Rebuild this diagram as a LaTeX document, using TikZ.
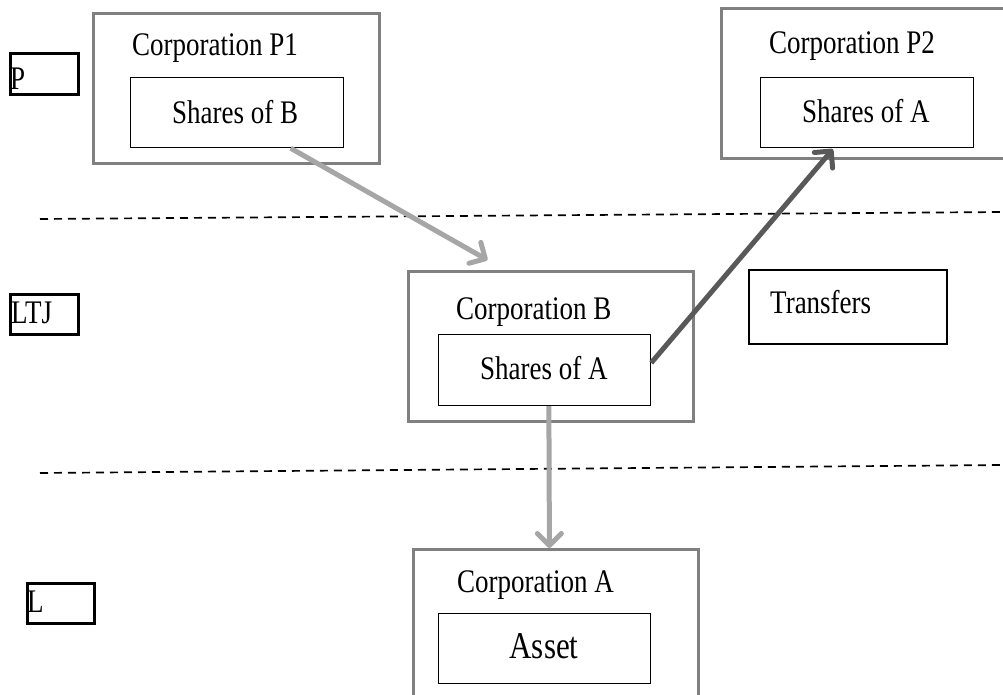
\documentclass[tikz,border=0pt]{standalone}
\usepackage{graphicx}
\usepackage{fontspec}
\setmainfont{Liberation Serif}
\usetikzlibrary{arrows.meta,calc}
\definecolor{outergray}{RGB}{128,128,128}
\definecolor{lightarr}{RGB}{166,166,166}
\definecolor{darkarr}{RGB}{89,89,89}
\newcommand{\stxt}[1]{\scalebox{1}[1.22]{#1}}
\begin{document}
\begin{tikzpicture}[x=1pt,y=-1pt,
  outerbox/.style={draw=outergray,line width=2.5pt,rectangle,inner sep=0pt,anchor=north west},
  innerbox/.style={draw=black,line width=1.2pt,rectangle,inner sep=0pt,anchor=north west},
  lblbox/.style={draw=black,line width=2.5pt,rectangle,inner sep=0pt,anchor=north west},
  txt/.style={anchor=base west,inner sep=0pt,font=\fontsize{27}{32}\selectfont},
  divider/.style={draw=black,line width=1.7pt,dash pattern=on 8pt off 6pt},
  lightarrow/.style={draw=lightarr,line width=5pt,-{Straight Barb[length=12pt,width=24pt,round]}},
  darkarrow/.style={draw=darkarr,line width=5pt,-{Straight Barb[length=12pt,width=24pt,round]}},
]
\clip (0,0) rectangle (1003,694);
% dashed dividers
\coordinate (d1a) at (40,219);
\coordinate (d1b) at (1003,212);
\coordinate (d2a) at (40,473);
\coordinate (d2b) at (1003,465);
\draw[divider] (d1a) -- (d1b);
\draw[divider] (d2a) -- (d2b);
% level label boxes
\node[lblbox,minimum width=68pt,minimum height=41pt] (lp) at (9,52) {};
\node[lblbox,minimum width=68pt,minimum height=40pt] (lltj) at (9,293) {};
\node[lblbox,minimum width=67pt,minimum height=40pt] (ll) at (26,582) {};
\node[txt] (tp) at (10,89) {\stxt{P}};
\node[txt] (tltj) at (11,323) {\stxt{LTJ}};
\node[txt] (tl) at (27,612) {\stxt{L}};
% corporation P1
\node[outerbox,minimum width=286pt,minimum height=150pt] (corpP1) at (92,12) {};
\node[innerbox,minimum width=213pt,minimum height=70pt] (sharesB) at (130,77) {};
\node[txt] (tP1) at (132,55) {\stxt{Corporation P1}};
\node[txt] (tsB) at (172,123) {\stxt{Shares of B}};
% corporation P2
\node[outerbox,minimum width=290pt,minimum height=150pt] (corpP2) at (720,7) {};
\node[innerbox,minimum width=213pt,minimum height=70pt] (sharesA2) at (760,77) {};
\node[txt] (tP2) at (769,53) {\stxt{Corporation P2}};
\node[txt] (tsA2) at (802,122) {\stxt{Shares of A}};
% corporation B
\node[outerbox,minimum width=285pt,minimum height=150pt] (corpB) at (407,270) {};
\node[innerbox,minimum width=212pt,minimum height=71pt] (sharesAB) at (438,334) {};
\node[txt] (tB) at (456,319) {\stxt{Corporation B}};
\node[txt] (tsAB) at (480,379) {\stxt{Shares of A}};
% transfers
\node[lblbox,line width=2pt,minimum width=198pt,minimum height=74pt] (transfers) at (748,269) {};
\node[txt] (ttr) at (770,313) {\stxt{Transfers}};
% corporation A
\node[outerbox,minimum width=285pt,minimum height=170pt] (corpA) at (412,548) {};
\node[innerbox,minimum width=212pt,minimum height=70pt] (asset) at (438,613) {};
\node[txt] (tA) at (457,592) {\stxt{Corporation A}};
\node[anchor=base,inner sep=0pt,font=\fontsize{31}{36}\selectfont] (tasset) at (544,658) {\stxt{Asset}};
% arrows
\draw[lightarrow] ($(sharesB.south west)!0.75!(sharesB.south east)$) -- ($(corpB.north west)!0.28!(corpB.north east)+(0,-10)$);
\draw[darkarrow] ($(sharesAB.north east)!0.4!(sharesAB.south east)$) -- ($(sharesA2.south west)!0.34!(sharesA2.south east)+(0,1)$);
\draw[lightarrow] ($(sharesAB.south west)!0.52!(sharesAB.south east)$) -- ($(corpA.north west)!0.478!(corpA.north east)$);
\end{tikzpicture}
\end{document}
